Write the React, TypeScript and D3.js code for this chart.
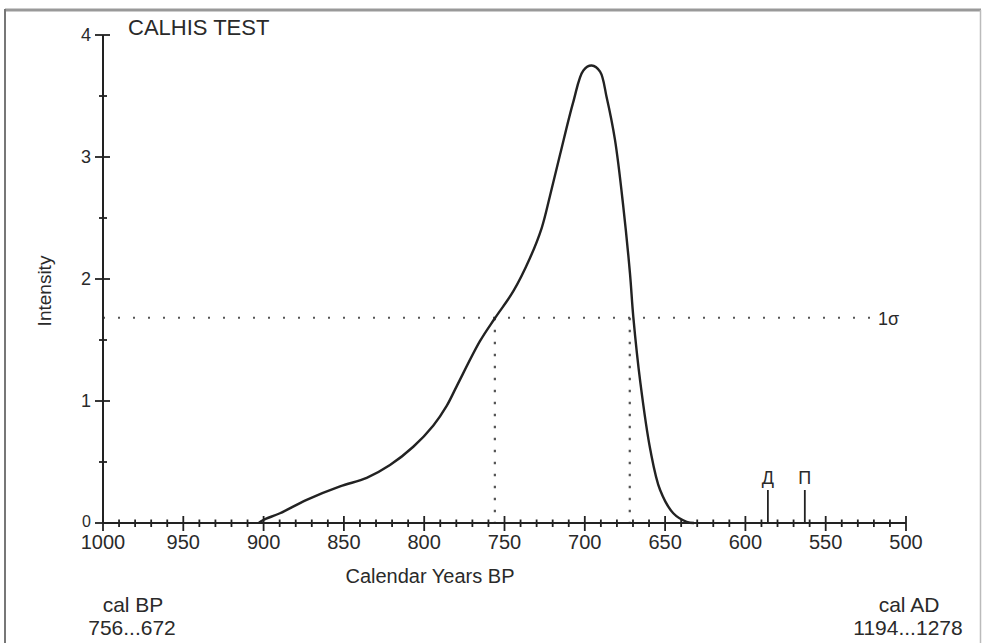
import React from "react";
import * as d3 from "d3";

// Data
const curveYears = [903, 900.2, 889.8, 873.2, 852.4, 835.8, 821.3, 806.8, 794.3, 786.0, 779.8, 765.3, 755.9, 744.5, 734.2, 726.8, 721.7, 715.4, 707.2, 700.9, 695.7, 690.5, 686.4, 681.2, 676.0, 671.9, 669.8, 665.4, 659.2, 653.1, 644.9, 636.6, 632];
const curveValues = [0, 0.025, 0.08, 0.19, 0.30, 0.37, 0.475, 0.625, 0.80, 0.96, 1.12, 1.49, 1.68, 1.90, 2.17, 2.42, 2.68, 3.02, 3.45, 3.71, 3.75, 3.70, 3.49, 3.14, 2.59, 2.05, 1.69, 1.15, 0.60, 0.27, 0.08, 0.01, 0];

const sigmaLevel = 1.683;
const rangeYears = [756, 672];
const markerYears = [586, 563];
const markerLabels = ["Д", "П"];

const xMajorTicks = [1000, 950, 900, 850, 800, 750, 700, 650, 600, 550, 500];
const yMajorTicks = [0, 1, 2, 3, 4];

const titleText = "CALHIS TEST";
const xTitle = "Calendar Years BP";
const yTitle = "Intensity";
const sigmaLabel = "1σ";
const leftNote = ["cal BP", "756...672"];
const rightNote = ["cal AD", "1194...1278"];

const W = 983;
const H = 643;
const FONT = "'Liberation Sans', Arial, Helvetica, sans-serif";
const INK = "#222";
const TXT = "#2a2a2a";

export default function App() {
  const x = d3.scaleLinear().domain([1000, 500]).range([103, 906]);
  const y = d3.scaleLinear().domain([0, 4]).range([523, 35]);

  const xMinor = d3.range(1000, 499, -10).filter((v) => v % 50 !== 0);
  const yMinor = d3.range(0.5, 4, 1);

  const pts: [number, number][] = curveYears.map((yr, i) => [x(yr), y(curveValues[i])]);
  const line = d3.line().curve(d3.curveCatmullRom.alpha(0.5))(pts) || "";

  const y0 = y(0);
  const ySig = y(sigmaLevel);

  return (
    <div style={{ position: "absolute", left: 0, top: 0 }}>
      <svg width={W} height={H} style={{ display: "block", background: "#fff" }}>
        {/* frame */}
        <line x1={5} y1={10} x2={981} y2={10} stroke="#999" strokeWidth={3} />
        <line x1={5} y1={9} x2={5} y2={H} stroke="#777" strokeWidth={2} />
        <line x1={980.5} y1={10} x2={980.5} y2={H} stroke="#bbb" strokeWidth={1.5} />

        {/* title */}
        <text x={128} y={35} fontFamily={FONT} fontSize={22} fill={TXT}>{titleText}</text>

        {/* sigma dotted line */}
        <line x1={x(1000)} x2={873} y1={ySig} y2={ySig} stroke="#555" strokeWidth={2} strokeDasharray="2 13" />
        <text x={878} y={325} fontFamily={FONT} fontSize={18} fill={TXT}>{sigmaLabel}</text>

        {/* range dotted verticals */}
        {rangeYears.map((yr) => (
          <line key={yr} x1={x(yr)} x2={x(yr)} y1={ySig} y2={y0} stroke="#555" strokeWidth={2.2} strokeDasharray="2.5 9.5" />
        ))}

        {/* axes */}
        <line x1={x(1000)} x2={x(1000)} y1={y(4)} y2={y0} stroke={INK} strokeWidth={2} />
        <line x1={x(1000)} x2={x(500)} y1={y0} y2={y0} stroke={INK} strokeWidth={2} />

        {yMajorTicks.map((v) => (
          <g key={"ym" + v}>
            <line x1={x(1000) - 8} x2={x(1000) + 7} y1={y(v)} y2={y(v)} stroke={INK} strokeWidth={1.8} />
            <text x={91} y={y(v) + (v === 0 ? 4 : 6)} textAnchor="end" fontFamily={FONT} fontSize={v === 0 ? 16 : 18} fill={TXT}>{v}</text>
          </g>
        ))}
        {yMinor.map((v) => (
          <line key={"yn" + v} x1={x(1000) - 4} x2={x(1000) + 4} y1={y(v)} y2={y(v)} stroke={INK} strokeWidth={1.8} />
        ))}

        {xMajorTicks.map((v) => (
          <g key={"xm" + v}>
            <line x1={x(v)} x2={x(v)} y1={y0 - 7} y2={y0 + 8} stroke={INK} strokeWidth={1.8} />
            <text x={x(v)} y={549} textAnchor="middle" fontFamily={FONT} fontSize={20} fill={TXT}>{v}</text>
          </g>
        ))}
        {xMinor.map((v) => (
          <line key={"xn" + v} x1={x(v)} x2={x(v)} y1={y0 - 3.5} y2={y0 + 4} stroke={INK} strokeWidth={1.8} />
        ))}

        {/* axis titles */}
        <text x={430} y={583} textAnchor="middle" fontFamily={FONT} fontSize={20} fill={TXT}>{xTitle}</text>
        <text transform="translate(51,291) rotate(-90)" textAnchor="middle" fontFamily={FONT} fontSize={19} fill={TXT}>{yTitle}</text>

        {/* curve */}
        <path d={line} fill="none" stroke={INK} strokeWidth={2.4} strokeLinejoin="round" />

        {/* markers */}
        {markerYears.map((yr, i) => (
          <g key={"mk" + yr}>
            <line x1={x(yr)} x2={x(yr)} y1={490} y2={y0} stroke={INK} strokeWidth={1.8} />
            <text x={x(yr)} y={484} textAnchor="middle" fontFamily={FONT} fontSize={18} fill={TXT}>{markerLabels[i]}</text>
          </g>
        ))}

        {/* bottom notes */}
        <text x={133} y={612} textAnchor="middle" fontFamily={FONT} fontSize={21} fill={TXT}>{leftNote[0]}</text>
        <text x={132} y={635} textAnchor="middle" fontFamily={FONT} fontSize={21} fill={TXT}>{leftNote[1]}</text>
        <text x={909} y={612} textAnchor="middle" fontFamily={FONT} fontSize={21} fill={TXT}>{rightNote[0]}</text>
        <text x={908} y={635} textAnchor="middle" fontFamily={FONT} fontSize={21} fill={TXT}>{rightNote[1]}</text>
      </svg>
    </div>
  );
}
